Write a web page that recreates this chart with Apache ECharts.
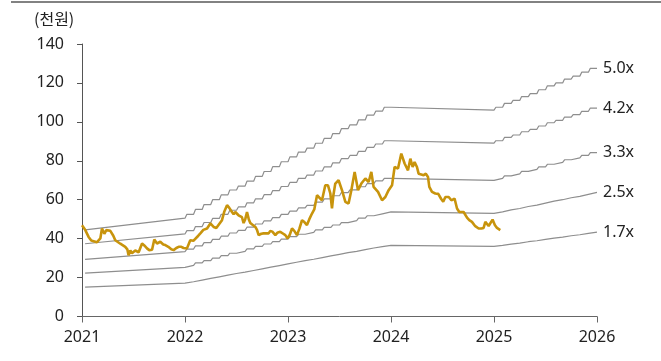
<!DOCTYPE html>
<html>
<head>
<meta charset="utf-8">
<script src="https://cdn.jsdelivr.net/npm/echarts@6/dist/echarts.min.js"></script>
<style>
  html, body { margin: 0; padding: 0; background: #fff; }
  #chart { width: 661px; height: 361px; }
</style>
</head>
<body>
<div id="chart"></div>
<script>
// Valuation multiples drawn as bands (price = multiple x forward EPS)
const multiples = [5.0, 4.2, 3.3, 2.5, 1.7];
const multipleLabels = ['5.0x', '4.2x', '3.3x', '2.5x', '1.7x'];

// Forward EPS (천원). 2021 and 2024 move smoothly between year ends;
// 2022-2023 and 2025 are revised month by month.
const eps2021 = [8.9, 10.1];            // start, end of 2021
const epsMonthly2022to2023 = [
  10.5, 11.0, 11.5, 12.0, 12.5, 13.0, 13.4, 13.9, 14.4, 14.9, 15.4, 15.9,
  16.4, 16.9, 17.3, 17.8, 18.3, 18.8, 19.3, 19.7, 20.2, 20.7, 21.1, 21.5
];
const eps2024End = 21.2;               // end of 2024
const epsMonthly2025 = [
  21.5, 21.9, 22.2, 22.6, 22.9, 23.3, 23.7, 24.0, 24.4, 24.7, 25.1, 25.5
];

// Share price (천원), time in decimal years
const priceT = [
  2021.000, 2021.032, 2021.064, 2021.090, 2021.113, 2021.146, 2021.178, 2021.194, 2021.217, 2021.236,
  2021.275, 2021.304, 2021.323, 2021.372, 2021.420, 2021.440, 2021.452, 2021.469, 2021.485, 2021.517,
  2021.550, 2021.583, 2021.605, 2021.631, 2021.653, 2021.680, 2021.702, 2021.728, 2021.760, 2021.789,
  2021.809, 2021.838, 2021.867, 2021.889, 2021.916, 2021.938, 2021.964, 2021.986, 2022.019, 2022.051,
  2022.081, 2022.100, 2022.129, 2022.149, 2022.178, 2022.214, 2022.246, 2022.278, 2022.304, 2022.323,
  2022.359, 2022.382, 2022.408, 2022.430, 2022.456, 2022.472, 2022.488, 2022.520, 2022.553, 2022.569,
  2022.585, 2022.602, 2022.619, 2022.634, 2022.653, 2022.683, 2022.699, 2022.715, 2022.741, 2022.763,
  2022.780, 2022.812, 2022.828, 2022.848, 2022.877, 2022.896, 2022.925, 2022.954, 2022.974, 2022.996,
  2023.017, 2023.039, 2023.061, 2023.087, 2023.110, 2023.136, 2023.159, 2023.184, 2023.207, 2023.233,
  2023.255, 2023.282, 2023.297, 2023.330, 2023.347, 2023.362, 2023.388, 2023.411, 2023.427, 2023.440,
  2023.459, 2023.491, 2023.524, 2023.557, 2023.588, 2023.615, 2023.647, 2023.680, 2023.712, 2023.751,
  2023.783, 2023.809, 2023.831, 2023.874, 2023.913, 2023.945, 2023.977, 2024.010, 2024.035, 2024.068,
  2024.100, 2024.132, 2024.165, 2024.188, 2024.210, 2024.229, 2024.252, 2024.268, 2024.294, 2024.317,
  2024.338, 2024.359, 2024.372, 2024.398, 2024.430, 2024.459, 2024.486, 2024.507, 2024.528, 2024.560,
  2024.586, 2024.617, 2024.641, 2024.663, 2024.705, 2024.738, 2024.760, 2024.786, 2024.818, 2024.851,
  2024.877, 2024.899, 2024.916, 2024.948, 2024.964, 2024.986, 2025.008, 2025.029, 2025.061
];
const priceV = [
  46.9, 44.4, 40.9, 39.0, 38.7, 38.2, 40.1, 45.2, 42.5, 44.4,
  44.0, 41.5, 39.2, 37.4, 35.8, 34.5, 31.5, 34.0, 32.5, 33.9,
  33.0, 37.5, 36.5, 35.0, 34.1, 34.3, 39.6, 37.5, 38.4, 37.0,
  36.7, 35.8, 34.5, 34.1, 35.2, 35.8, 35.8, 35.2, 35.0, 39.2,
  38.9, 39.2, 41.5, 42.7, 44.5, 45.2, 47.8, 46.0, 45.5, 46.0,
  49.5, 54.0, 57.2, 55.8, 53.7, 52.5, 53.7, 52.0, 51.0, 48.0,
  50.0, 53.7, 50.0, 48.0, 47.5, 46.0, 44.5, 41.8, 42.5, 42.7,
  42.0, 42.7, 44.0, 43.6, 41.8, 43.0, 43.5, 42.5, 41.8, 40.1,
  42.0, 45.2, 44.0, 41.8, 45.0, 49.5, 48.5, 47.0, 50.0, 52.9,
  55.0, 62.3, 62.3, 59.7, 60.0, 67.4, 67.4, 63.2, 55.5, 62.0,
  68.3, 70.0, 64.9, 58.9, 58.0, 64.9, 74.3, 64.9, 68.3, 70.9,
  69.1, 74.3, 66.6, 64.0, 59.7, 61.4, 64.9, 67.4, 76.8, 76.0,
  83.7, 78.6, 75.1, 81.1, 76.8, 79.4, 76.8, 73.4, 73.0, 72.6,
  73.4, 71.7, 66.6, 64.0, 63.2, 63.0, 60.5, 59.0, 61.4, 61.4,
  59.7, 60.6, 55.5, 53.7, 53.7, 50.8, 49.5, 48.6, 46.4, 45.2,
  45.2, 45.5, 48.6, 46.5, 46.0, 49.8, 47.0, 45.5, 44.4
];

// Build the EPS path: a quick revision in the first week of each month,
// then flat until the next month.
function epsPath() {
  const pts = [[2021.03, eps2021[0]], [2022, eps2021[1]]];
  const addMonths = (year, values) => {
    values.forEach((v, m) => {
      const t = year + m / 12;
      pts.push([t + 0.22 / 12, v]);
      pts.push([t + 1 / 12, v]);
    });
  };
  addMonths(2022, epsMonthly2022to2023);
  pts.push([2025, eps2024End]);
  addMonths(2025, epsMonthly2025);
  return pts;
}

const path = epsPath();
const textColor = '#222';
const fontFamily = "'Noto Sans', 'Noto Sans CJK KR', sans-serif";

const bandSeries = multiples.map((k, i) => ({
  name: multipleLabels[i],
  type: 'line',
  showSymbol: false,
  silent: true,
  z: 2,
  lineStyle: { color: '#8e8e8e', width: 1.2 },
  data: path.map(p => [p[0], +(p[1] * k).toFixed(3)]),
  endLabel: {
    show: true,
    formatter: multipleLabels[i],
    color: textColor,
    fontSize: 16,
    fontFamily: fontFamily,
    distance: 6
  }
}));

const priceSeries = {
  name: 'price',
  type: 'line',
  showSymbol: false,
  z: 3,
  lineStyle: { color: '#C8940C', width: 2.6 },
  data: priceT.map((t, i) => [t, priceV[i]])
};

const chart = echarts.init(document.getElementById('chart'), null, { renderer: 'canvas' });
chart.setOption({
  animation: false,
  backgroundColor: '#fff',
  grid: { left: 82, right: 64, top: 44, bottom: 44.5, containLabel: false },
  graphic: [
    {
      type: 'rect',
      shape: { x: 11, y: 1, width: 650, height: 2 },
      style: { fill: '#828282' }
    },
    {
      type: 'text',
      left: 34,
      top: 11,
      style: { text: '(천원)', fill: textColor, font: "16px 'Noto Sans CJK KR', sans-serif" }
    }
  ],
  xAxis: {
    type: 'value',
    min: 2021,
    max: 2026,
    interval: 1,
    splitLine: { show: false },
    axisLine: { lineStyle: { color: '#666', width: 1 } },
    axisTick: { show: true, length: 6, lineStyle: { color: '#666' } },
    axisLabel: {
      color: textColor,
      fontSize: 16,
      fontFamily: fontFamily,
      margin: 13,
      formatter: v => String(Math.round(v))
    }
  },
  yAxis: {
    type: 'value',
    min: 0,
    max: 140,
    interval: 20,
    splitLine: { show: false },
    axisLine: { show: true, lineStyle: { color: '#555', width: 1 } },
    axisTick: { show: true, length: 5, lineStyle: { color: '#555' } },
    axisLabel: {
      color: textColor,
      fontSize: 16,
      fontFamily: fontFamily,
      margin: 18
    }
  },
  series: [...bandSeries, priceSeries]
});
</script>
</body>
</html>
